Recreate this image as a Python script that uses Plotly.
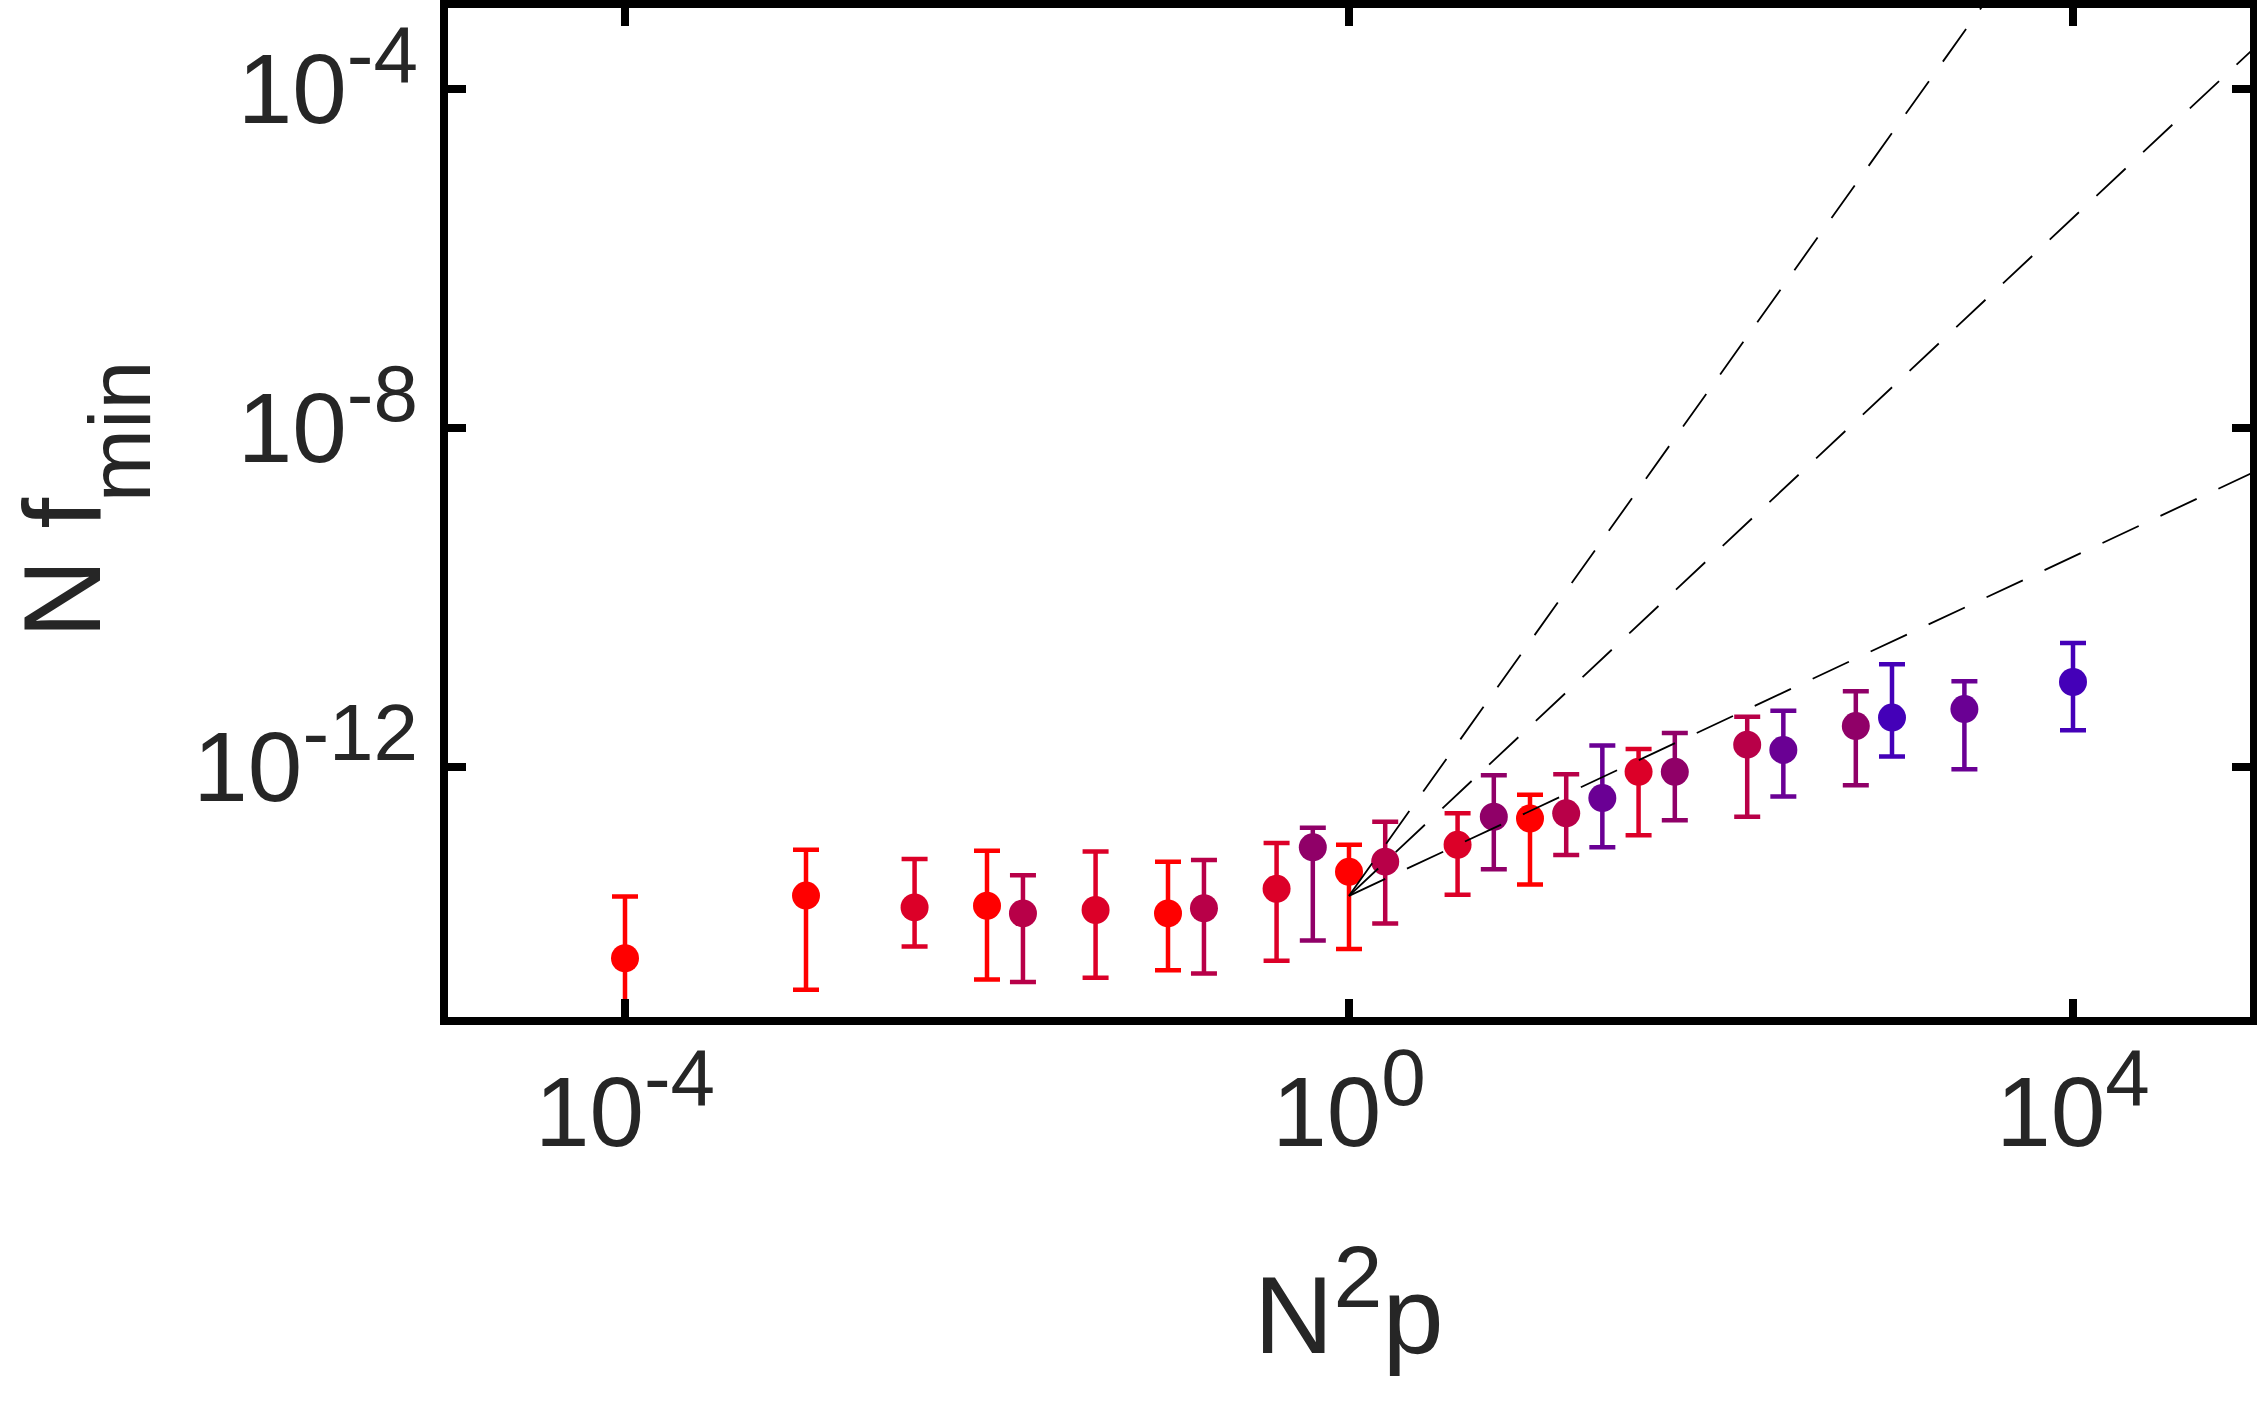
import plotly.graph_objects as go

# ---- data ----
# groups (one colour per group), x = N^2 p, y = N f_min, with error bounds
x_g1 = [1e-4, 1e-3, 1e-2, 0.1, 1.0, 10.0]
y_g1 = [5.50e-15, 3.02e-14, 2.29e-14, 1.86e-14, 5.75e-14, 2.45e-13]
hi_g1 = [2.95e-14, 1.05e-13, 1.02e-13, 7.59e-14, 1.20e-13, 4.68e-13]
lo_g1 = [2.5e-16, 2.34e-15, 3.09e-15, 3.98e-15, 7.08e-15, 4.07e-14]

x_g2 = [3.98e-3, 3.98e-2, 0.398, 3.98, 39.8]
y_g2 = [2.19e-14, 2.04e-14, 3.63e-14, 1.20e-13, 8.71e-13]
hi_g2 = [8.13e-14, 1.00e-13, 1.26e-13, 2.82e-13, 1.62e-12]
lo_g2 = [7.59e-15, 3.24e-15, 5.13e-15, 3.09e-14, 1.55e-13]

x_g3 = [1.58e-2, 0.158, 1.585, 15.85, 158.5]
y_g3 = [1.86e-14, 2.14e-14, 7.59e-14, 2.82e-13, 1.82e-12]
hi_g3 = [5.25e-14, 7.94e-14, 2.24e-13, 8.13e-13, 3.89e-12]
lo_g3 = [2.88e-15, 3.63e-15, 1.41e-14, 9.12e-14, 2.57e-13]

x_g4 = [0.631, 6.31, 63.1, 631.0]
y_g4 = [1.12e-13, 2.57e-13, 8.71e-13, 3.02e-12]
hi_g4 = [1.91e-13, 7.94e-13, 2.51e-12, 7.76e-12]
lo_g4 = [8.91e-15, 6.17e-14, 2.34e-13, 6.03e-13]

x_g5 = [25.1, 251.0, 2512.0]
y_g5 = [4.27e-13, 1.58e-12, 4.79e-12]
hi_g5 = [1.78e-12, 4.57e-12, 1.02e-11]
lo_g5 = [1.12e-13, 4.47e-13, 9.33e-13]

x_g6 = [1000.0, 10000.0]
y_g6 = [3.80e-12, 1.00e-11]
hi_g6 = [1.62e-11, 2.88e-11]
lo_g6 = [1.32e-12, 2.69e-12]

group_colors = ["#ff0000", "#dc0028", "#b80048", "#900068", "#6a0094", "#4400b8"]

# power-law guide lines  y = guide_y0 * x^k
guide_x = [1.0, 1e5]
guide_y0 = 3.0e-14
guide_slopes = [1, 2, 3]

SUP = '<sup><span style="font-size:80px">{}</span></sup>'
x_tickvals = [1e-4, 1.0, 1e4]
x_ticktext = ["10" + SUP.format("-4"), "10" + SUP.format("0"), "10" + SUP.format("4")]
y_tickvals = [1e-12, 1e-8, 1e-4]
y_ticktext = ["10" + SUP.format("-12"), "10" + SUP.format("-8"), "10" + SUP.format("-4")]

# ---- figure ----
groups = [
    (x_g1, y_g1, hi_g1, lo_g1),
    (x_g2, y_g2, hi_g2, lo_g2),
    (x_g3, y_g3, hi_g3, lo_g3),
    (x_g4, y_g4, hi_g4, lo_g4),
    (x_g5, y_g5, hi_g5, lo_g5),
    (x_g6, y_g6, hi_g6, lo_g6),
]

fig = go.Figure()
for (xs, ys, his, los), col in zip(groups, group_colors):
    fig.add_trace(go.Scatter(
        x=xs, y=ys, mode="markers",
        marker=dict(size=28, color=col, line=dict(width=0)),
        error_y=dict(type="data", symmetric=False,
                     array=[h - y for h, y in zip(his, ys)],
                     arrayminus=[y - l for y, l in zip(ys, los)],
                     color=col, thickness=4.5, width=13),
        showlegend=False, cliponaxis=True,
    ))

for k in guide_slopes:
    fig.add_trace(go.Scatter(
        x=guide_x, y=[guide_y0 * xv ** k for xv in guide_x], mode="lines",
        line=dict(color="black", width=1.8, dash="40px,24px"),
        showlegend=False,
    ))

TXT = "#262626"
FONT = "Liberation Sans, Arial, Helvetica, sans-serif"

axis_common = dict(
    type="log", showgrid=False, zeroline=False, showline=False,
    ticks="inside", ticklen=22, tickwidth=8, tickcolor="black",
    mirror="ticks", tickfont=dict(family=FONT, size=98, color=TXT),
)
fig.update_xaxes(range=[-5, 5], tickvals=x_tickvals, ticktext=x_ticktext,
                 ticklabelstandoff=26, **axis_common)
fig.update_yaxes(range=[-15, -3], tickvals=y_tickvals, ticktext=y_ticktext,
                 ticklabelstandoff=25, **axis_common)

fig.add_shape(type="rect", xref="paper", yref="paper", x0=0, x1=1, y0=0, y1=1,
              line=dict(color="black", width=8), layer="above")

# axis titles
fig.add_annotation(text="N" + '<sup><span style="font-size:88px">2</span></sup>' + "p",
                   xref="paper", yref="paper",
                   x=0.5, y=-0.276, xanchor="center", yanchor="middle",
                   showarrow=False, font=dict(family=FONT, size=110, color=TXT))
fig.add_annotation(text="N f", xref="paper", yref="paper",
                   x=-0.2116, y=0.445, xanchor="center", yanchor="middle",
                   textangle=-90, showarrow=False,
                   font=dict(family=FONT, size=110, color=TXT))
fig.add_annotation(text="min", xref="paper", yref="paper",
                   x=-0.1795, y=0.58, xanchor="center", yanchor="middle",
                   textangle=-90, showarrow=False,
                   font=dict(family=FONT, size=88, color=TXT))

fig.update_layout(
    width=2257, height=1402,
    margin=dict(l=444, r=3, t=4, b=381, autoexpand=False),
    paper_bgcolor="white", plot_bgcolor="white",
    font=dict(family=FONT, color=TXT),
)

fig.write_html("out.html")
